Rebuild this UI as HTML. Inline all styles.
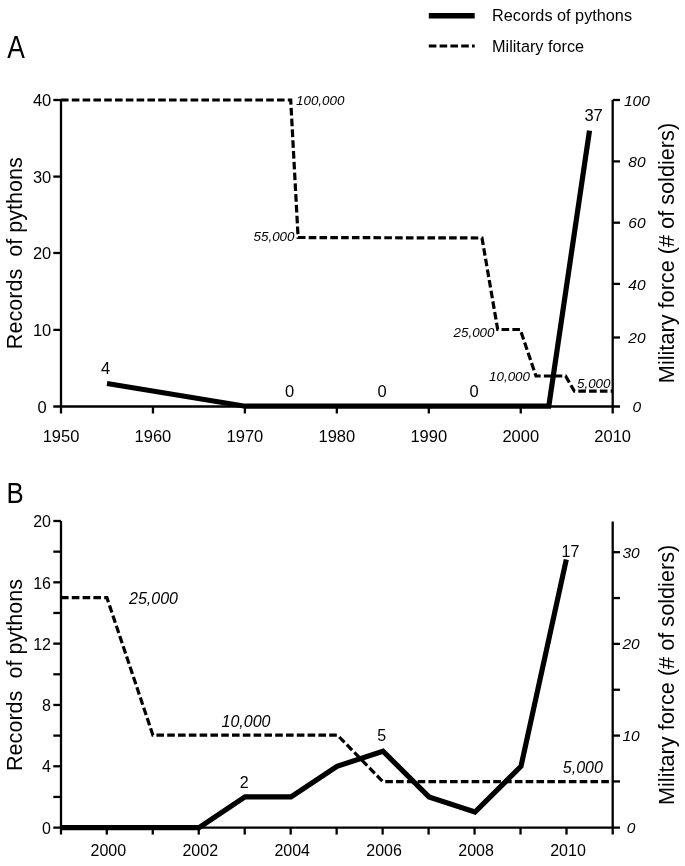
<!DOCTYPE html>
<html><head><meta charset="utf-8"><style>
html,body{margin:0;padding:0;background:#fff;}
svg{display:block;will-change:transform;}
text{font-family:"Liberation Sans", sans-serif;fill:#000;}
</style></head><body>
<svg width="685" height="866" viewBox="0 0 685 866">
<line x1="428.8" y1="15.7" x2="474.7" y2="15.7" stroke="#000" stroke-width="5.5" />
<text x="492.0" y="20.8" font-size="16.25" text-anchor="start" >Records of pythons</text>
<line x1="428.8" y1="46.0" x2="474.7" y2="46.0" stroke="#000" stroke-width="3.2" stroke-dasharray="7.6 3.2"/>
<text x="492.0" y="52.3" font-size="16.25" text-anchor="start" >Military force</text>
<text transform="translate(7.2,57.6) scale(0.863,1)" font-size="30.6">A</text>
<line x1="61.0" y1="100" x2="61.0" y2="413.5" stroke="#000" stroke-width="2.3" />
<line x1="612.7" y1="100" x2="612.7" y2="413.5" stroke="#000" stroke-width="2.3" />
<line x1="53.3" y1="406.5" x2="620" y2="406.5" stroke="#000" stroke-width="2.3" />
<line x1="53.3" y1="100" x2="61.0" y2="100" stroke="#000" stroke-width="2.3" />
<text x="51.3" y="106.2" font-size="16.5" text-anchor="end" >40</text>
<line x1="53.3" y1="176.6" x2="61.0" y2="176.6" stroke="#000" stroke-width="2.3" />
<text x="51.3" y="182.79999999999998" font-size="16.5" text-anchor="end" >30</text>
<line x1="53.3" y1="253.0" x2="61.0" y2="253.0" stroke="#000" stroke-width="2.3" />
<text x="51.3" y="259.2" font-size="16.5" text-anchor="end" >20</text>
<line x1="53.3" y1="329.9" x2="61.0" y2="329.9" stroke="#000" stroke-width="2.3" />
<text x="51.3" y="336.09999999999997" font-size="16.5" text-anchor="end" >10</text>
<text x="46.8" y="412.5" font-size="16.5" text-anchor="end" >0</text>
<line x1="612.7" y1="100" x2="620" y2="100" stroke="#000" stroke-width="2.3" />
<text x="636.9" y="105.6" font-size="15.5" text-anchor="middle" font-style="italic" >100</text>
<line x1="612.7" y1="161.4" x2="620" y2="161.4" stroke="#000" stroke-width="2.3" />
<text x="636.9" y="167.0" font-size="15.5" text-anchor="middle" font-style="italic" >80</text>
<line x1="612.7" y1="222.7" x2="620" y2="222.7" stroke="#000" stroke-width="2.3" />
<text x="636.9" y="228.29999999999998" font-size="15.5" text-anchor="middle" font-style="italic" >60</text>
<line x1="612.7" y1="283.9" x2="620" y2="283.9" stroke="#000" stroke-width="2.3" />
<text x="636.9" y="289.5" font-size="15.5" text-anchor="middle" font-style="italic" >40</text>
<line x1="612.7" y1="337.5" x2="620" y2="337.5" stroke="#000" stroke-width="2.3" />
<text x="636.9" y="343.1" font-size="15.5" text-anchor="middle" font-style="italic" >20</text>
<text x="636.9" y="412.1" font-size="15.5" text-anchor="middle" font-style="italic" >0</text>
<text x="61.0" y="442.2" font-size="16.5" text-anchor="middle" >1950</text>
<line x1="152.95" y1="406.5" x2="152.95" y2="413.5" stroke="#000" stroke-width="2.3" />
<text x="152.95" y="442.2" font-size="16.5" text-anchor="middle" >1960</text>
<line x1="244.9" y1="406.5" x2="244.9" y2="413.5" stroke="#000" stroke-width="2.3" />
<text x="244.9" y="442.2" font-size="16.5" text-anchor="middle" >1970</text>
<line x1="336.85" y1="406.5" x2="336.85" y2="413.5" stroke="#000" stroke-width="2.3" />
<text x="336.85" y="442.2" font-size="16.5" text-anchor="middle" >1980</text>
<line x1="428.8" y1="406.5" x2="428.8" y2="413.5" stroke="#000" stroke-width="2.3" />
<text x="428.8" y="442.2" font-size="16.5" text-anchor="middle" >1990</text>
<line x1="520.75" y1="406.5" x2="520.75" y2="413.5" stroke="#000" stroke-width="2.3" />
<text x="520.75" y="442.2" font-size="16.5" text-anchor="middle" >2000</text>
<text x="612.7" y="442.2" font-size="16.5" text-anchor="middle" >2010</text>
<text transform="translate(22.2,253.2) rotate(-90)" font-size="21.6" text-anchor="middle" xml:space="preserve">Records  of pythons</text>
<text transform="translate(673.9,253.0) rotate(-90)" font-size="21.7" text-anchor="middle">Military force (# of soldiers)</text>
<polyline points="61.0,100 290.7,100 298.1,237.5 482,238 497.7,329.5 520.2,329.5 536,376 565.6,376 574.4,391.2 612.7,391.2" fill="none" stroke="#000" stroke-width="3.2" stroke-dasharray="7.6 3.2"/>
<text x="296.0" y="104.6" font-size="13.4" text-anchor="start" font-style="italic" >100,000</text>
<text x="294.5" y="240.5" font-size="13.4" text-anchor="end" font-style="italic" >55,000</text>
<text x="494.5" y="337.4" font-size="13.4" text-anchor="end" font-style="italic" >25,000</text>
<text x="530.0" y="380.8" font-size="13.4" text-anchor="end" font-style="italic" >10,000</text>
<text x="577.0" y="388.1" font-size="13.4" text-anchor="start" font-style="italic" >5,000</text>
<polyline points="107,383.5 245.2,406.2 548.8,406.2 589.5,130.7" fill="none" stroke="#000" stroke-width="5.2" stroke-linejoin="miter"/>
<text x="105.5" y="373.7" font-size="16.5" text-anchor="middle" >4</text>
<text x="289.7" y="396.6" font-size="16.5" text-anchor="middle" >0</text>
<text x="382.1" y="396.6" font-size="16.5" text-anchor="middle" >0</text>
<text x="474.0" y="396.6" font-size="16.5" text-anchor="middle" >0</text>
<text x="593.6" y="120.8" font-size="16.5" text-anchor="middle" >37</text>
<text transform="translate(6.4,502.6) scale(0.895,1)" font-size="28.8">B</text>
<line x1="61.0" y1="521" x2="61.0" y2="834.6" stroke="#000" stroke-width="2.3" />
<line x1="612.7" y1="521.5" x2="612.7" y2="834.6" stroke="#000" stroke-width="2.3" />
<line x1="53.3" y1="827.6" x2="620" y2="827.6" stroke="#000" stroke-width="2.3" />
<line x1="53.3" y1="796.94" x2="61.0" y2="796.94" stroke="#000" stroke-width="2.3" />
<line x1="53.3" y1="766.28" x2="61.0" y2="766.28" stroke="#000" stroke-width="2.3" />
<line x1="53.3" y1="735.62" x2="61.0" y2="735.62" stroke="#000" stroke-width="2.3" />
<line x1="53.3" y1="704.96" x2="61.0" y2="704.96" stroke="#000" stroke-width="2.3" />
<line x1="53.3" y1="674.3" x2="61.0" y2="674.3" stroke="#000" stroke-width="2.3" />
<line x1="53.3" y1="643.64" x2="61.0" y2="643.64" stroke="#000" stroke-width="2.3" />
<line x1="53.3" y1="612.98" x2="61.0" y2="612.98" stroke="#000" stroke-width="2.3" />
<line x1="53.3" y1="582.32" x2="61.0" y2="582.32" stroke="#000" stroke-width="2.3" />
<line x1="53.3" y1="551.6600000000001" x2="61.0" y2="551.6600000000001" stroke="#000" stroke-width="2.3" />
<line x1="53.3" y1="521.0" x2="61.0" y2="521.0" stroke="#000" stroke-width="2.3" />
<text x="51.0" y="833.8000000000001" font-size="16" text-anchor="end" >0</text>
<text x="51.0" y="772.48" font-size="16" text-anchor="end" >4</text>
<text x="51.0" y="711.1600000000001" font-size="16" text-anchor="end" >8</text>
<text x="51.0" y="649.84" font-size="16" text-anchor="end" >12</text>
<text x="51.0" y="588.5200000000001" font-size="16" text-anchor="end" >16</text>
<text x="51.0" y="527.2" font-size="16" text-anchor="end" >20</text>
<line x1="612.7" y1="781.4499999999999" x2="620" y2="781.4499999999999" stroke="#000" stroke-width="2.3" />
<line x1="612.7" y1="735.5999999999999" x2="620" y2="735.5999999999999" stroke="#000" stroke-width="2.3" />
<line x1="612.7" y1="689.75" x2="620" y2="689.75" stroke="#000" stroke-width="2.3" />
<line x1="612.7" y1="643.9" x2="620" y2="643.9" stroke="#000" stroke-width="2.3" />
<line x1="612.7" y1="598.05" x2="620" y2="598.05" stroke="#000" stroke-width="2.3" />
<line x1="612.7" y1="552.1999999999999" x2="620" y2="552.1999999999999" stroke="#000" stroke-width="2.3" />
<text x="631.0" y="832.8" font-size="15.5" text-anchor="middle" font-style="italic" >0</text>
<text x="631.0" y="741.0999999999999" font-size="15.5" text-anchor="middle" font-style="italic" >10</text>
<text x="631.0" y="649.4" font-size="15.5" text-anchor="middle" font-style="italic" >20</text>
<text x="631.0" y="557.6999999999999" font-size="15.5" text-anchor="middle" font-style="italic" >30</text>
<line x1="106.8" y1="827.6" x2="106.8" y2="834.6" stroke="#000" stroke-width="2.3" />
<text x="108.3" y="856.1" font-size="16" text-anchor="middle" >2000</text>
<line x1="152.76999999999998" y1="827.6" x2="152.76999999999998" y2="834.6" stroke="#000" stroke-width="2.3" />
<line x1="198.74" y1="827.6" x2="198.74" y2="834.6" stroke="#000" stroke-width="2.3" />
<text x="200.24" y="856.1" font-size="16" text-anchor="middle" >2002</text>
<line x1="244.70999999999998" y1="827.6" x2="244.70999999999998" y2="834.6" stroke="#000" stroke-width="2.3" />
<line x1="290.68" y1="827.6" x2="290.68" y2="834.6" stroke="#000" stroke-width="2.3" />
<text x="292.18" y="856.1" font-size="16" text-anchor="middle" >2004</text>
<line x1="336.65" y1="827.6" x2="336.65" y2="834.6" stroke="#000" stroke-width="2.3" />
<line x1="382.62" y1="827.6" x2="382.62" y2="834.6" stroke="#000" stroke-width="2.3" />
<text x="384.12" y="856.1" font-size="16" text-anchor="middle" >2006</text>
<line x1="428.59" y1="827.6" x2="428.59" y2="834.6" stroke="#000" stroke-width="2.3" />
<line x1="474.56" y1="827.6" x2="474.56" y2="834.6" stroke="#000" stroke-width="2.3" />
<text x="476.06" y="856.1" font-size="16" text-anchor="middle" >2008</text>
<line x1="520.53" y1="827.6" x2="520.53" y2="834.6" stroke="#000" stroke-width="2.3" />
<line x1="566.5" y1="827.6" x2="566.5" y2="834.6" stroke="#000" stroke-width="2.3" />
<text x="568.0" y="856.1" font-size="16" text-anchor="middle" >2010</text>
<text transform="translate(22.2,675) rotate(-90)" font-size="21.6" text-anchor="middle" xml:space="preserve">Records  of pythons</text>
<text transform="translate(673.9,674.9) rotate(-90)" font-size="21.7" text-anchor="middle">Military force (# of soldiers)</text>
<polyline points="61.0,597.7 106.9,597.7 152.9,735.2 337.5,735.2 382.8,781.6 612.7,781.6" fill="none" stroke="#000" stroke-width="3.2" stroke-dasharray="7.6 3.2"/>
<text x="129.0" y="604.2" font-size="16" text-anchor="start" font-style="italic" >25,000</text>
<text x="221.5" y="726.6" font-size="16" text-anchor="start" font-style="italic" >10,000</text>
<text x="562.8" y="773.4" font-size="16" text-anchor="start" font-style="italic" >5,000</text>
<polyline points="61.0,827.6 199,827.6 245,796.9 291,796.9 337,766.3 383,751.2 429,796.9 475,812.0 521,766.3 566.3,559.5" fill="none" stroke="#000" stroke-width="5.2" stroke-linejoin="miter"/>
<text x="244.1" y="787.8" font-size="16" text-anchor="middle" >2</text>
<text x="381.8" y="741.2" font-size="16" text-anchor="middle" >5</text>
<text x="570.5" y="556.8" font-size="16" text-anchor="middle" >17</text>
</svg>
</body></html>
